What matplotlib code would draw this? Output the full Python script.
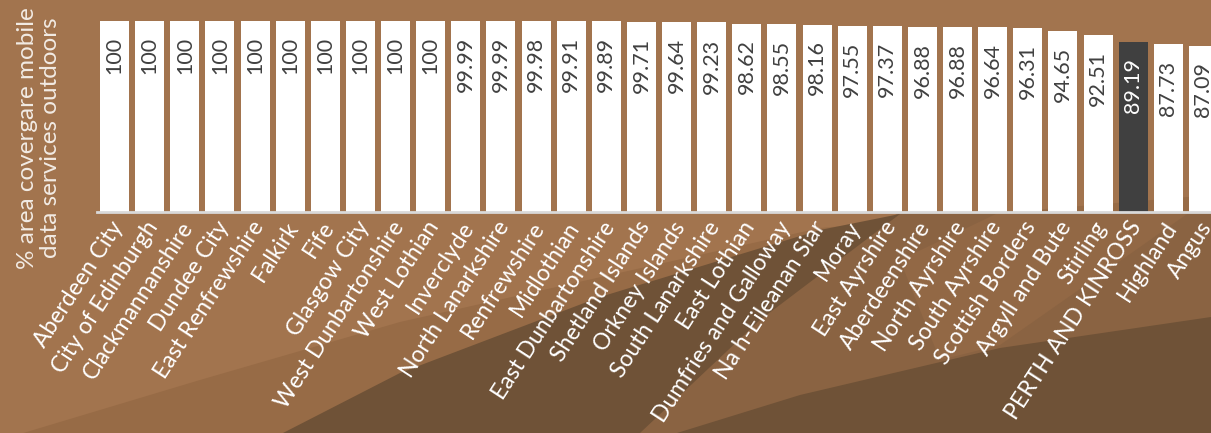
import matplotlib
matplotlib.use('Agg')
import matplotlib.pyplot as plt
from matplotlib.patches import Polygon
from matplotlib import transforms

# 地区名称与覆盖率
regions = ["Aberdeen City", "City of Edinburgh", "Clackmannanshire", "Dundee City",
           "East Renfrewshire", "Falkirk", "Fife", "Glasgow City", "West Dunbartonshire",
           "West Lothian", "Inverclyde", "North Lanarkshire", "Renfrewshire", "Midlothian",
           "East Dunbartonshire", "Shetland Islands", "Orkney Islands", "South Lanarkshire",
           "East Lothian", "Dumfries and Galloway", "Na h-Eileanan Siar", "Moray",
           "East Ayrshire", "Aberdeenshire", "North Ayrshire", "South Ayrshire",
           "Scottish Borders", "Argyll and Bute", "Stirling", "PERTH AND KINROSS",
           "Highland", "Angus"]
coverage = [100, 100, 100, 100, 100, 100, 100, 100, 100, 100,
            99.99, 99.99, 99.98, 99.91, 99.89, 99.71, 99.64, 99.23, 98.62, 98.55,
            98.16, 97.55, 97.37, 96.88, 96.88, 96.64, 96.31, 94.65, 92.51, 89.19,
            87.73, 87.09]
value_labels = ["100", "100", "100", "100", "100", "100", "100", "100", "100", "100",
                "99.99", "99.99", "99.98", "99.91", "99.89", "99.71", "99.64", "99.23",
                "98.62", "98.55", "98.16", "97.55", "97.37", "96.88", "96.88", "96.64",
                "96.31", "94.65", "92.51", "89.19", "87.73", "87.09"]
highlight = "PERTH AND KINROSS"

W, H = 1211, 433
BG = "#a2744e"
plt.rcParams['font.family'] = ['Lato', 'DejaVu Sans']

fig = plt.figure(figsize=(W / 100, H / 100), dpi=100, facecolor=BG)


def px(pts):
    # 像素坐标(左上原点) -> figure 坐标
    return [(x / W, 1 - y / H) for x, y in pts]


# 背景色块
shapes = [
    ("#976b46", [(0, 440), (200, 380), (400, 322), (820, 228), (1211, 195), (1211, 433), (0, 433)]),
    ("#8a6342", [(600, 433), (760, 300), (900, 212), (1211, 212), (1211, 433)]),
    ("#926845", [(940, 360), (1000, 345), (1190, 212), (1000, 212), (900, 260)]),
    ("#6f5237", [(283, 433), (400, 373), (600, 297), (820, 230), (900, 214), (760, 320), (640, 433)]),
    ("#6f5237", [(677, 433), (800, 395), (1000, 348), (1211, 317), (1211, 433)]),
]
for color, pts in shapes:
    fig.patches.append(Polygon(px(pts), closed=True, facecolor=color, edgecolor='none',
                               transform=fig.transFigure, figure=fig, zorder=-5))

ax = fig.add_axes([97 / W, 1 - 212 / H, 1124 / W, 191 / H])
ax.set_facecolor('none')
ax.set_zorder(2)

x = list(range(len(regions)))
colors = ["#404040" if r == highlight else "white" for r in regions]
ax.bar(x, coverage, width=0.825, color=colors, zorder=2)

for i, (v, lab) in enumerate(zip(coverage, value_labels)):
    tc = "white" if regions[i] == highlight else "#404040"
    ax.annotate(lab, (i, v), xytext=(0, -11.5), textcoords='offset points',
                rotation=90, ha='center', va='top', fontsize=15.5, color=tc, zorder=3)

ax.set_xlim(-0.5, len(regions) - 0.5)
ax.set_ylim(0, 100)
ax.set_yticks([])
for s in ['top', 'right', 'left']:
    ax.spines[s].set_visible(False)
ax.spines['bottom'].set_color("#d9d9d9")
ax.spines['bottom'].set_linewidth(2)
ax.spines['bottom'].set_zorder(4)

ax.set_xticks(x)
ax.set_xticklabels(regions, rotation=57, ha='right', va='top', rotation_mode='anchor',
                   fontsize=16.5, color='white')
ax.tick_params(axis='x', length=0, pad=4)
shift = transforms.ScaledTranslation(-5 / 100, 0, fig.dpi_scale_trans)
for t in ax.get_xticklabels():
    t.set_transform(t.get_transform() + shift)

fig.text(39 / W, 1 - 138 / H, "% area covergare mobile\ndata services outdoors",
         rotation=90, ha='center', va='center', multialignment='center',
         fontsize=17.5, color='#f2ebe4', linespacing=1.15)

fig.savefig("out.png", dpi=100, facecolor=BG)
